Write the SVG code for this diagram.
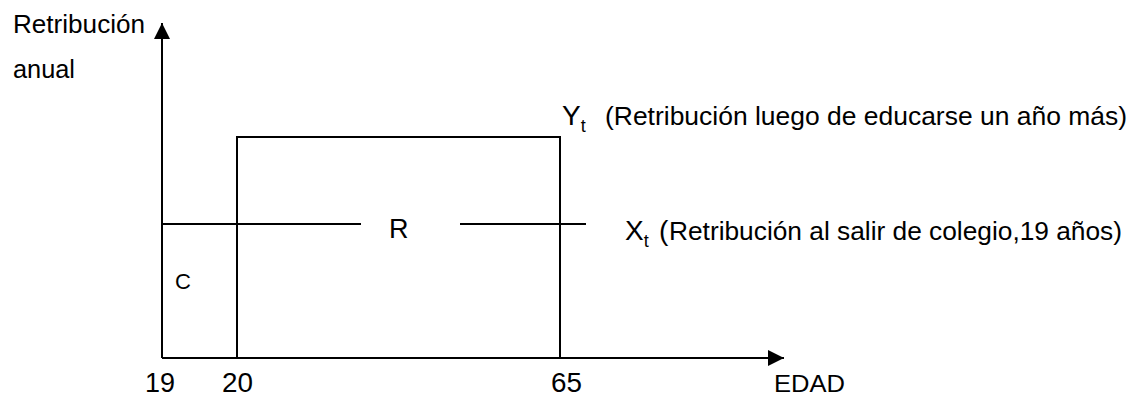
<svg xmlns="http://www.w3.org/2000/svg" width="1139" height="396" viewBox="0 0 1139 396">
  <style>
    .ln { stroke: #000; stroke-width: 2; fill: none; }
    .t { font-family: "Liberation Sans", Arial, sans-serif; fill: #000; }
  </style>
  <defs>
    <marker id="arrow" viewBox="0 0 16 16" refX="16" refY="8" markerWidth="16" markerHeight="16" markerUnits="userSpaceOnUse" orient="auto">
      <path d="M0,0 L16,8 L0,16 Z" fill="#000"/>
    </marker>
  </defs>

  <!-- axes -->
  <g id="connectors">
    <line class="ln" x1="162" y1="358" x2="162" y2="23" marker-end="url(#arrow)"/>
    <line class="ln" x1="162" y1="358" x2="784" y2="358" marker-end="url(#arrow)"/>
    <!-- income without further schooling -->
    <line class="ln" x1="162" y1="224" x2="361" y2="224"/>
    <line class="ln" x1="460" y1="224" x2="586" y2="224"/>
  </g>

  <!-- income with one more year of schooling -->
  <g id="rect-Y">
    <polyline class="ln" points="237,358 237,137 560,137 560,358"/>
  </g>

  <g id="label-axis-y">
    <text class="t" x="13" y="33" font-size="25" textLength="132" lengthAdjust="spacingAndGlyphs">Retribución</text>
    <text class="t" x="13" y="78" font-size="25" textLength="62" lengthAdjust="spacingAndGlyphs">anual</text>
  </g>

  <g id="label-Y">
    <text class="t" x="562" y="125" font-size="28">Y<tspan font-size="18" dy="7">t</tspan></text>
    <text class="t" x="605" y="125" font-size="25" textLength="522" lengthAdjust="spacingAndGlyphs">(Retribución luego de educarse un año más)</text>
  </g>

  <g id="label-X">
    <text class="t" x="625" y="240" font-size="28">X<tspan font-size="18" dy="7">t</tspan></text>
    <text class="t" x="659" y="240" font-size="28">(</text>
    <text class="t" x="669" y="240" font-size="25" textLength="453" lengthAdjust="spacingAndGlyphs">Retribución al salir de colegio,19 años)</text>
  </g>

  <g id="label-R">
    <text class="t" x="389" y="238" font-size="27">R</text>
  </g>
  <g id="label-C">
    <text class="t" x="175" y="289" font-size="22">C</text>
  </g>

  <g id="ticks">
    <text class="t" x="145" y="392" font-size="27" textLength="30" lengthAdjust="spacingAndGlyphs">19</text>
    <text class="t" x="222" y="392" font-size="27" textLength="31" lengthAdjust="spacingAndGlyphs">20</text>
    <text class="t" x="551" y="392" font-size="27" textLength="31" lengthAdjust="spacingAndGlyphs">65</text>
    <text class="t" x="774" y="392" font-size="24" textLength="71" lengthAdjust="spacingAndGlyphs">EDAD</text>
  </g>
</svg>
